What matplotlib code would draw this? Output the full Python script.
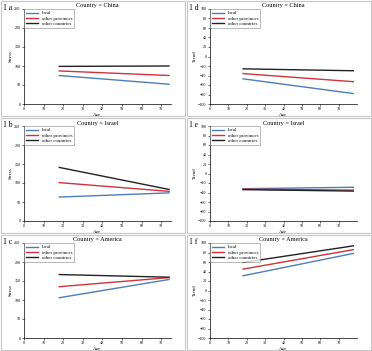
import matplotlib.pyplot as plt
from matplotlib.patches import Rectangle

plt.rcParams['font.family'] = ['Liberation Serif', 'DejaVu Serif']

# Age range of each fitted line (start, end)
age_left = [18, 74]
age_right = [18, 78]

groups = ['local', 'other provinces', 'other countries']
colors = ['#4f7db8', '#d0323c', '#222222']

countries = ['China', 'Israel', 'America']
left_labels = ['1 a', '1 b', '1 c']
right_labels = ['1 d', '1 e', '1 f']

# Stress: (start, end) for local, other provinces, other countries
stress_china = [(75, 52), (87, 75), (99, 100)]
stress_israel = [(63, 74), (101, 78), (141, 83)]
stress_america = [(106, 154), (135, 159), (167, 160)]

# Trend: (start, end)
trend_china = [(-47, -78), (-36, -53), (-26, -30)]
trend_israel = [(-32, -29), (-33, -35), (-34, -37)]
trend_america = [(31, 78), (45, 86), (59, 94)]

stress = [stress_china, stress_israel, stress_america]
trend = [trend_china, trend_israel, trend_america]

W, H = 372, 351
PW, PH = 186, 117
fig = plt.figure(figsize=(W / 100, H / 100), dpi=100)

for col in range(2):
    for row in range(3):
        x0 = col * PW
        y0 = row * PH
        # panel border
        fig.patches.append(Rectangle((x0 / W + 0.002, 1 - (y0 + PH) / H + 0.002),
                                     PW / W - 0.004, PH / H - 0.004,
                                     transform=fig.transFigure, fill=False,
                                     edgecolor='#c8c8c8', linewidth=0.8))
        ax = fig.add_axes([(x0 + 24) / W, 1 - (y0 + 104) / H, 147 / W, 95 / H])
        if col == 0:
            data = stress[row]
            ages = age_left
            ax.set_xlim(0, 75)
            ax.set_ylim(0, 250)
            ax.set_yticks(range(0, 251, 50))
            ax.set_ylabel('Stress', fontsize=3.5, labelpad=1)
            lab = left_labels[row]
        else:
            data = trend[row]
            ages = age_right
            ax.set_xlim(0, 80)
            ax.set_ylim(-100, 100)
            ax.set_yticks(range(-100, 101, 20))
            ax.set_ylabel('Trend', fontsize=3.5, labelpad=1)
            lab = right_labels[row]
        for g, c, (s, e) in zip(groups, colors, data):
            ax.plot(ages, [s, e], color=c, linewidth=1.0, label=g)
        ax.set_xticks(range(0, 71, 10))
        ax.set_xlabel('Age', fontsize=3.5, labelpad=1)
        ax.text(0.5, 1.0 + 3.0 / 95, 'Country = ' + countries[row],
                transform=ax.transAxes, fontsize=4.5, ha='center', va='center')
        ax.tick_params(labelsize=3, length=1.5, width=0.4, pad=1)
        for side in ['top', 'right']:
            ax.spines[side].set_visible(False)
        for side in ['left', 'bottom']:
            ax.spines[side].set_linewidth(0.5)
        leg = ax.legend(loc='upper left', fontsize=3.5, frameon=True,
                        borderpad=0.3, handlelength=2.5, labelspacing=0.2,
                        borderaxespad=0.1, fancybox=False)
        leg.get_frame().set_linewidth(0.4)
        leg.get_frame().set_edgecolor('#666666')
        fig.text((x0 + 3) / W, 1 - (y0 + 8) / H, lab, fontsize=5.5, va='center')

fig.savefig('out.png', dpi=100)
